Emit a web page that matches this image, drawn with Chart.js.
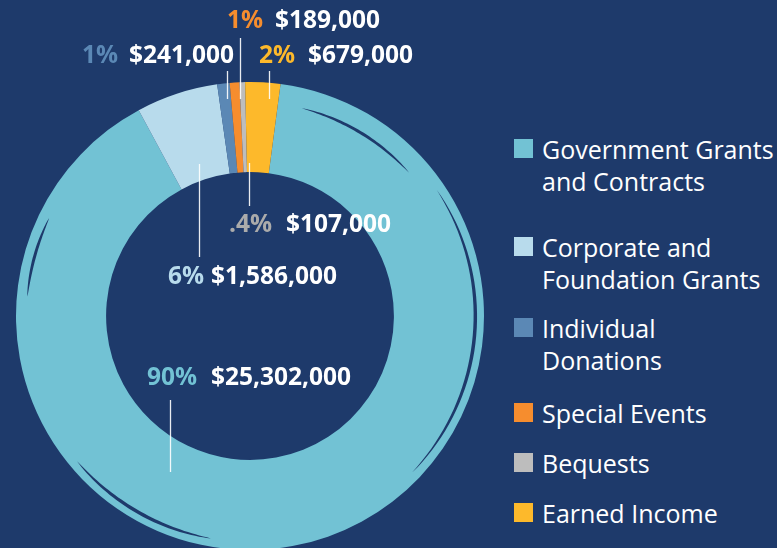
<!DOCTYPE html>
<html>
<head>
<meta charset="utf-8">
<title>Revenue Sources</title>
<script src="https://cdn.jsdelivr.net/npm/chart.js@4.4.0/dist/chart.umd.min.js"></script>
<style>
    html, body {
        margin: 0;
        padding: 0;
        width: 777px;
        height: 548px;
        overflow: hidden;
        background: #1e3a6b;
        font-family: "Open Sans", sans-serif;
    }
    #chartWrap {
        position: absolute;
        left: 0;
        top: 0;
        width: 500px;
        height: 632px;
    }
    #legend {
        position: absolute;
        left: 514px;
        top: 0;
    }
    .legend-item {
        position: absolute;
        left: 0;
        display: flex;
        white-space: nowrap;
        color: #ffffff;
        font-size: 25px;
        line-height: 32px;
    }
    .legend-swatch {
        width: 19px;
        height: 19px;
        margin-top: 6px;
        margin-right: 9px;
        flex: none;
    }
</style>
</head>
<body>
<div id="chartWrap"><canvas id="revenueChart"></canvas></div>
<div id="legend"></div>

<script>
// Revenue by source
const categories = [
    ["Government Grants", "and Contracts"],
    ["Corporate and", "Foundation Grants"],
    ["Individual", "Donations"],
    ["Special Events"],
    ["Bequests"],
    ["Earned Income"],
];
const amounts = [25302000, 1586000, 241000, 189000, 107000, 679000];

// Slice colors and the matching percent label colors
const sliceColors = ["#72c2d4", "#b8dbec", "#5b88b5", "#f68d2e", "#bdbdbd", "#fdb92b"];
const pctColors = ["#72c2d4", "#b8dbec", "#5b88b5", "#f68d2e", "#ababab", "#fdb92b"];

// Where each value label and its leader line sit on the canvas
const labelSpots = [
    { pct: [147, 385], val: [211, 385], line: [170, 400, 472] },
    { pct: [168, 284], val: [211, 284], line: [199, 164, 257] },
    { pct: [82, 63], val: [129, 63], line: [227, 71, 99] },
    { pct: [227, 28], val: [275, 28], line: [240, 38, 99] },
    { pct: [229, 232], val: [286, 232], line: [249, 163, 206] },
    { pct: [259, 63], val: [308, 63], line: [269, 71, 99] },
];

// Legend row tops
const legendTops = [133, 231, 312, 397, 447, 497];

const bgColor = "#1e3a6b";
const total = amounts.reduce((a, b) => a + b, 0);

function formatPct(v) {
    const p = (v / total) * 100;
    if (p < 0.5) {
        return "." + Math.round(p * 10) + "%";
    }
    return Math.round(p) + "%";
}

function formatMoney(v) {
    return "$" + v.toLocaleString("en-US");
}

// Thin dark brush marks inside the ring (angles in degrees, canvas orientation)
const brushMarks = [
    { from: 185, to: 206, r: 0.955, w: 3 },
    { from: -76, to: -42, r: 0.915, w: 3 },
    { from: -34, to: 44, r: 0.963, w: 3.5 },
    { from: 100, to: 140, r: 0.965, w: 3.5 },
];

const brushPlugin = {
    id: "brushMarks",
    afterDatasetsDraw(chart) {
        const arc = chart.getDatasetMeta(0).data[0];
        if (!arc) return;
        const { x, y, outerRadius } = arc.getProps(["x", "y", "outerRadius"], true);
        const ctx = chart.ctx;
        ctx.save();
        ctx.fillStyle = bgColor;
        brushMarks.forEach((m) => {
            const steps = 40;
            const outer = [];
            const inner = [];
            for (let i = 0; i <= steps; i++) {
                const t = i / steps;
                const a = ((m.from + (m.to - m.from) * t) * Math.PI) / 180;
                const half = (m.w / 2) * Math.pow(Math.sin(Math.PI * t), 0.7);
                const r = outerRadius * m.r;
                outer.push([x + Math.cos(a) * (r + half), y + Math.sin(a) * (r + half)]);
                inner.push([x + Math.cos(a) * (r - half), y + Math.sin(a) * (r - half)]);
            }
            ctx.beginPath();
            outer.forEach((p, i) => (i ? ctx.lineTo(p[0], p[1]) : ctx.moveTo(p[0], p[1])));
            inner.reverse().forEach((p) => ctx.lineTo(p[0], p[1]));
            ctx.closePath();
            ctx.fill();
        });
        ctx.restore();
    },
};

const valueLabelPlugin = {
    id: "valueLabels",
    afterDraw(chart) {
        const ctx = chart.ctx;
        ctx.save();
        ctx.font = "bold 24.5px 'Open Sans', sans-serif";
        ctx.textAlign = "left";
        ctx.textBaseline = "alphabetic";
        amounts.forEach((v, i) => {
            const spot = labelSpots[i];
            // leader line
            ctx.strokeStyle = "rgba(255,255,255,0.9)";
            ctx.lineWidth = 1.3;
            ctx.beginPath();
            ctx.moveTo(spot.line[0] + 0.5, spot.line[1]);
            ctx.lineTo(spot.line[0] + 0.5, spot.line[2]);
            ctx.stroke();
            // percent and amount
            ctx.fillStyle = pctColors[i];
            ctx.fillText(formatPct(v), spot.pct[0], spot.pct[1]);
            ctx.fillStyle = "#ffffff";
            ctx.fillText(formatMoney(v), spot.val[0], spot.val[1]);
        });
        ctx.restore();
    },
};

const revenueCtx = document.getElementById("revenueChart");
new Chart(revenueCtx.getContext("2d"), {
    type: "doughnut",
    data: {
        labels: categories,
        datasets: [
            {
                data: amounts,
                backgroundColor: sliceColors,
                borderWidth: 0,
                hoverOffset: 0,
                offset: 0,
            },
        ],
    },
    options: {
        responsive: true,
        maintainAspectRatio: false,
        animation: false,
        events: [],
        cutout: "61.5%",
        rotation: 7.5,
        layout: {
            padding: 16,
        },
        plugins: {
            legend: {
                display: false,
            },
            tooltip: {
                enabled: false,
            },
        },
    },
    plugins: [brushPlugin, valueLabelPlugin],
});

// HTML legend built from the same categories and colors
const legendEl = document.getElementById("legend");
categories.forEach((lines, i) => {
    const item = document.createElement("div");
    item.className = "legend-item";
    item.style.top = legendTops[i] + "px";
    const sw = document.createElement("span");
    sw.className = "legend-swatch";
    sw.style.background = sliceColors[i];
    const txt = document.createElement("span");
    txt.innerHTML = lines.join("<br>");
    item.appendChild(sw);
    item.appendChild(txt);
    legendEl.appendChild(item);
});
</script>
</body>
</html>
